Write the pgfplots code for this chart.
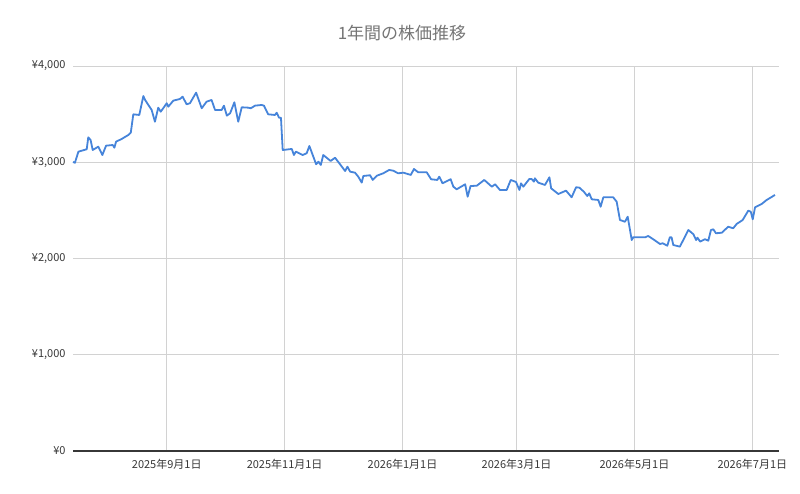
\documentclass[border=0pt]{standalone}
\usepackage{fontspec}
\setmainfont{Noto Sans CJK JP}
\usepackage{pgfplots}
\pgfplotsset{compat=1.18}
\definecolor{lineblue}{RGB}{70,132,218}
\definecolor{gridgray}{RGB}{210,210,210}
\definecolor{labelgray}{RGB}{55,55,55}
\definecolor{titlegray}{RGB}{117,117,117}
\begin{document}
\begin{tikzpicture}[x=1bp,y=1bp]
\path[use as bounding box] (0,0) rectangle (800,494);
\node[font=\fontsize{17bp}{20bp}\selectfont, text=titlegray, anchor=center] at (402,461) {1年間の株価推移};
\begin{axis}[
  at={(73bp,43bp)}, anchor=south west,
  width=706bp, height=385bp, scale only axis,
  xmin=1.5, xmax=366.8,
  ymin=0, ymax=4000,
  axis line style={draw=none},
  axis x line*=bottom,
  axis y line*=left,
  x axis line style={draw=none},
  xtick={50,111,172,231,292,353},
  xticklabels={2025年9月1日,2025年11月1日,2026年1月1日,2026年3月1日,2026年5月1日,2026年7月1日},
  ytick={0,1000,2000,3000,4000},
  yticklabels={{¥0},{¥1,000},{¥2,000},{¥3,000},{¥4,000}},
  major tick length=0pt,
  grid=major,
  major grid style={draw=gridgray, line width=0.8bp},
  tick label style={font=\fontsize{11bp}{13bp}\selectfont, text=labelgray},
  xticklabel style={yshift=-5bp},
  yticklabel style={xshift=-4bp},
  clip=false,
]
\draw[draw=labelgray, line width=1.2bp] (axis cs:1.5,0) -- (axis cs:366.8,0);
\addplot[color=lineblue, line width=1.8bp, line join=round, mark=none] coordinates {
(1.5,3003) (2.5,2995) (4.3,3110) (8.6,3135) (9.4,3259) (10.6,3231) (11.7,3127)
(14.6,3162) (16.7,3075) (18.6,3172) (22.1,3179) (22.9,3151) (23.8,3214)
(26.7,3242) (30.1,3283) (31.4,3307) (32.7,3498) (35.8,3491) (37.9,3688)
(38.8,3647) (42.2,3543) (43.9,3421) (45.6,3567) (46.9,3525) (50.0,3613)
(50.8,3577) (53.4,3640) (56.8,3657) (58.2,3681) (60.3,3602) (62.0,3613)
(65.2,3723) (68.1,3561) (70.6,3629) (73.2,3647) (75.0,3543) (78.4,3543)
(79.6,3588) (81.1,3484) (82.8,3509) (85.0,3623) (87.0,3421) (88.8,3571)
(92.2,3567) (93.5,3561) (95.7,3588) (99.1,3595) (100.3,3588) (102.5,3498)
(106.0,3491) (106.9,3515) (108.1,3463) (109.1,3463) (110.0,3127) (114.7,3138)
(115.8,3075) (116.8,3110) (120.3,3075) (122.4,3093) (123.8,3169) (127.3,2979)
(128.5,3006) (129.7,2972) (131.0,3075) (134.8,3013) (137.1,3047) (142.3,2909)
(143.5,2954) (144.9,2902) (147.4,2892) (149.1,2850) (150.9,2788) (151.7,2857)
(155.2,2865) (156.6,2816) (158.7,2860) (162.0,2885) (165.1,2920) (167.2,2912)
(169.8,2885) (172.4,2892) (176.3,2868) (177.9,2930) (180.1,2896) (184.5,2896)
(186.8,2823) (190.0,2816) (191.0,2850) (192.7,2781) (196.9,2823) (198.3,2746)
(200.0,2719) (201.8,2740) (204.4,2771) (205.7,2642) (207.2,2753) (210.4,2756)
(214.3,2816) (218.2,2746) (219.9,2771) (222.4,2712) (225.9,2712) (228.0,2816)
(230.7,2795) (232.5,2712) (233.3,2781) (234.5,2746) (237.6,2826) (238.8,2826)
(240.0,2798) (240.5,2833) (242.2,2788) (245.7,2764) (248.0,2844) (248.9,2729)
(252.6,2670) (253.4,2677) (256.6,2705) (259.5,2636) (261.8,2740) (263.5,2736)
(265.8,2694) (267.6,2649) (268.6,2677) (269.9,2615) (273.3,2608) (274.5,2538)
(275.9,2636) (281.0,2636) (282.8,2590) (284.5,2400) (287.1,2382) (288.5,2434)
(290.6,2192) (291.4,2220) (297.5,2220) (299.1,2234) (301.7,2200) (305.2,2151)
(306.6,2158) (309.0,2133) (310.3,2220) (311.2,2220) (312.1,2140) (315.5,2123)
(319.9,2296) (322.5,2252) (323.9,2192) (324.6,2216) (326.0,2175) (328.5,2200)
(330.2,2185) (331.6,2296) (332.8,2303) (334.2,2262) (337.2,2268) (340.5,2330)
(343.1,2314) (344.9,2359) (348.0,2400) (350.9,2497) (352.2,2486) (353.2,2407)
(354.4,2532) (357.8,2566) (360.4,2608) (364.7,2660)
};
\end{axis}
\end{tikzpicture}
\end{document}
